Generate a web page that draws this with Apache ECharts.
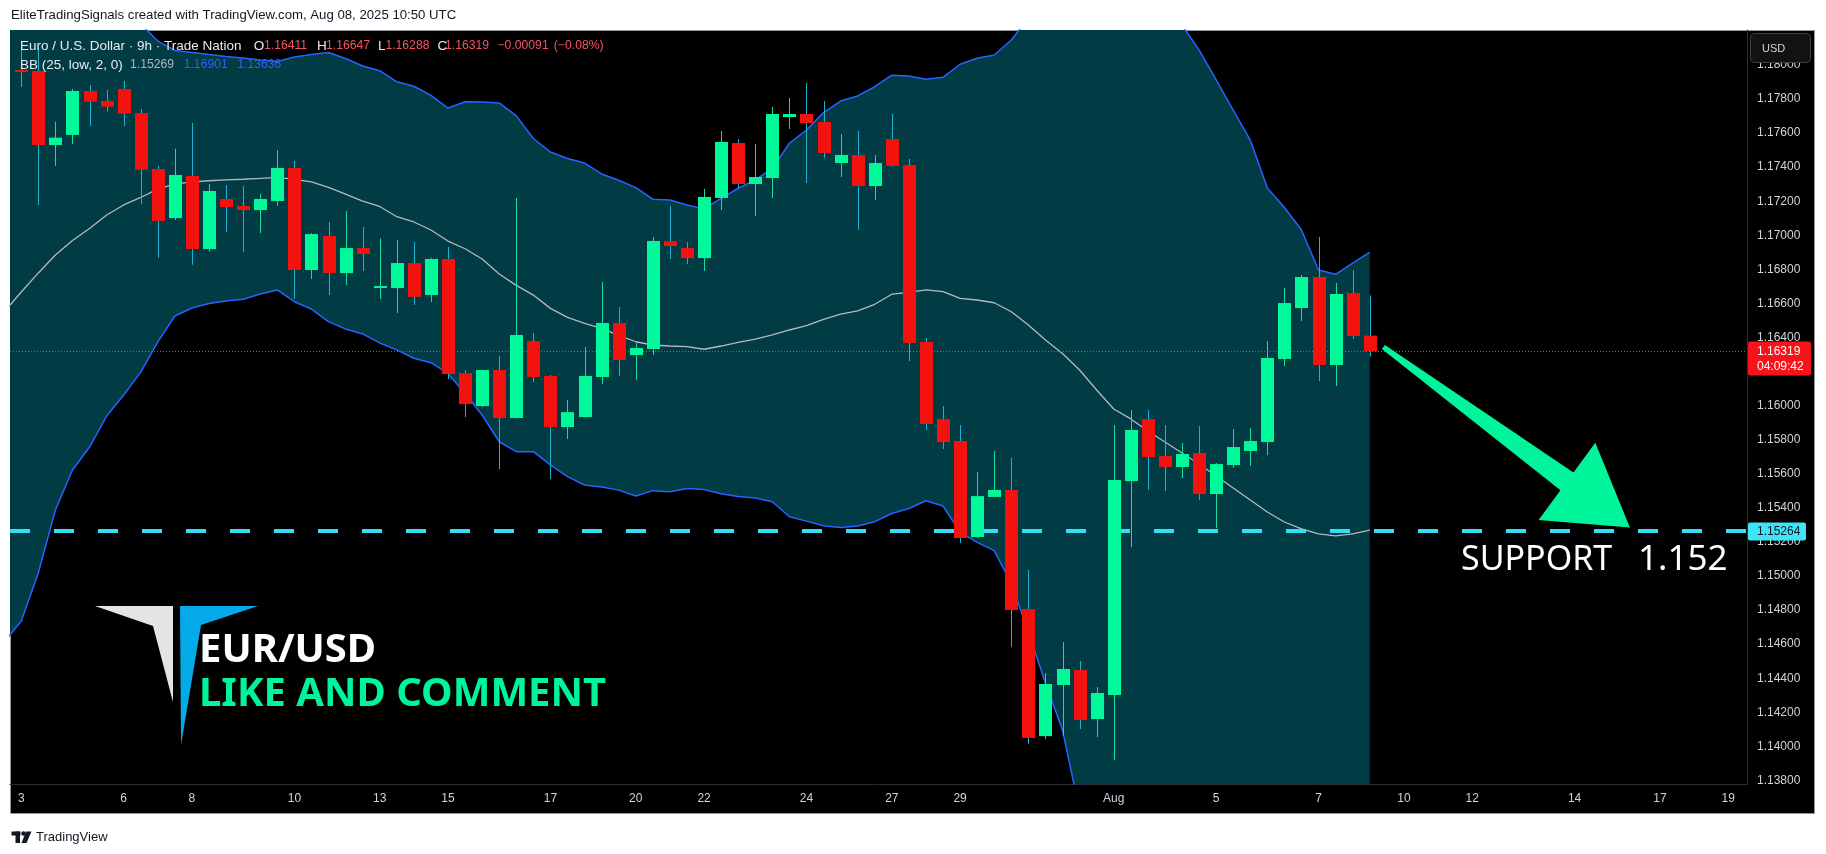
<!DOCTYPE html>
<html>
<head>
<meta charset="utf-8">
<script src="https://cdn.jsdelivr.net/npm/echarts@6/dist/echarts.min.js"></script>
<style>
html,body{margin:0;padding:0;background:#ffffff;}
#frame{position:absolute;left:10px;top:30px;width:1803px;height:782px;background:#000;border:1px solid #9598a1;box-sizing:content-box;}
#c{position:absolute;left:0;top:0;width:1826px;height:854px;}
</style>
</head>
<body>
<div id="frame"></div>
<div id="c"></div>
<script>
// ---------- data ----------
const opens  = [1.17970,1.17964,1.17530,1.17589,1.17847,1.17788,1.17859,1.17718,1.17389,1.17101,
                1.17348,1.16919,1.17213,1.17172,1.17148,1.17201,1.17395,1.16796,1.16996,1.16778,
                1.16925,1.16698,1.16690,1.16837,1.16649,1.16861,1.16191,1.15998,1.16209,1.15927,
                1.16379,1.16174,1.15874,1.15933,1.16168,1.16485,1.16297,1.16332,1.16966,1.16925,
                1.16866,1.17219,1.17542,1.17301,1.17336,1.17694,1.17712,1.17665,1.17424,1.17471,
                1.17289,1.17565,1.17412,1.16373,1.15921,1.15792,1.15229,1.15464,1.15505,1.14806,
                1.14060,1.14360,1.14448,1.14160,1.14301,1.15557,1.15921,1.15704,1.15640,1.15722,
                1.15481,1.15651,1.15734,1.15786,1.16274,1.16573,1.16755,1.16238,1.16661,1.16411];
const highs  = [1.18100,1.18100,1.17667,1.17859,1.17882,1.17853,1.17906,1.17741,1.17407,1.17508,
                1.17659,1.17301,1.17295,1.17289,1.17242,1.17500,1.17436,1.17013,1.17078,1.17142,
                1.17049,1.16982,1.16972,1.16960,1.16866,1.16931,1.16209,1.16212,1.16291,1.17219,
                1.16426,1.16180,1.16033,1.16344,1.16726,1.16579,1.16367,1.16990,1.17172,1.16960,
                1.17272,1.17612,1.17565,1.17536,1.17753,1.17806,1.17894,1.17788,1.17594,1.17612,
                1.17471,1.17712,1.17448,1.16397,1.15998,1.15886,1.15610,1.15734,1.15693,1.15035,
                1.14430,1.14612,1.14501,1.14348,1.15886,1.15974,1.15974,1.15886,1.15781,1.15880,
                1.15663,1.15863,1.15869,1.16379,1.16690,1.16767,1.16990,1.16720,1.16796,1.16647];
const lows   = [1.17870,1.17178,1.17407,1.17536,1.17641,1.17726,1.17641,1.17185,1.16868,1.17090,
                1.16827,1.16904,1.17019,1.16902,1.17013,1.17172,1.16626,1.16743,1.16649,1.16708,
                1.16790,1.16626,1.16544,1.16591,1.16608,1.16156,1.15933,1.15992,1.15628,1.15925,
                1.16139,1.15569,1.15804,1.15930,1.16127,1.16174,1.16150,1.16297,1.16861,1.16831,
                1.16790,1.17148,1.17277,1.17113,1.17219,1.17624,1.17307,1.17454,1.17342,1.17031,
                1.17207,1.17401,1.16262,1.15857,1.15745,1.15193,1.15223,1.15464,1.14583,1.14013,
                1.14043,1.14060,1.14102,1.14054,1.13919,1.15170,1.15505,1.15499,1.15575,1.15446,
                1.15282,1.15634,1.15646,1.15710,1.16233,1.16497,1.16144,1.16115,1.16391,1.16288];
const closes = [1.17960,1.17530,1.17573,1.17847,1.17784,1.17755,1.17714,1.17385,1.17084,1.17354,
                1.16919,1.17260,1.17166,1.17148,1.17213,1.17395,1.16796,1.17007,1.16778,1.16925,
                1.16890,1.16702,1.16837,1.16638,1.16861,1.16185,1.16009,1.16209,1.15927,1.16414,
                1.16168,1.15874,1.15962,1.16174,1.16485,1.16268,1.16338,1.16966,1.16937,1.16866,
                1.17225,1.17548,1.17301,1.17342,1.17712,1.17712,1.17659,1.17483,1.17471,1.17289,
                1.17424,1.17407,1.16367,1.15892,1.15786,1.15223,1.15469,1.15505,1.14800,1.14049,
                1.14366,1.14454,1.14154,1.14313,1.15563,1.15857,1.15698,1.15640,1.15716,1.15481,
                1.15657,1.15757,1.15792,1.16280,1.16602,1.16755,1.16238,1.16655,1.16409,1.16319];

// Bollinger band values; first value belongs to bar index -1
const bandStart = -1;
const bbUpper  = [1.18487,
                 1.18604,1.18540,1.18381,1.18317,1.18322,1.18299,1.18293,1.18240,1.18140,1.18085,
                 1.18073,1.18061,1.18050,1.18041,1.18029,1.18020,1.18047,1.18061,1.18073,1.18038,
                 1.17994,1.17966,1.17901,1.17875,1.17821,1.17747,1.17784,1.17782,1.17777,1.17701,
                 1.17568,1.17489,1.17451,1.17424,1.17360,1.17323,1.17280,1.17212,1.17207,1.17178,
                 1.17155,1.17217,1.17276,1.17325,1.17393,1.17540,1.17618,1.17720,1.17788,1.17818,
                 1.17872,1.17940,1.17935,1.17916,1.17927,1.18004,1.18039,1.18058,1.18146,1.18275,
                 1.18399,1.18516,1.18792,1.18704,1.18675,1.18604,1.18499,1.18369,1.18234,1.18088,
                 1.17912,1.17735,1.17559,1.17277,1.17163,1.17031,1.16796,1.16771,1.16837,1.16901];
const bbMiddle = [1.16550,
                 1.16667,1.16779,1.16884,1.16969,1.17040,1.17119,1.17178,1.17222,1.17272,1.17301,
                 1.17313,1.17320,1.17325,1.17329,1.17334,1.17340,1.17328,1.17313,1.17281,1.17241,
                 1.17201,1.17169,1.17109,1.17078,1.17031,1.16966,1.16921,1.16861,1.16773,1.16706,
                 1.16649,1.16571,1.16518,1.16483,1.16453,1.16413,1.16375,1.16356,1.16350,1.16346,
                 1.16331,1.16350,1.16371,1.16391,1.16415,1.16444,1.16470,1.16507,1.16537,1.16556,
                 1.16595,1.16654,1.16665,1.16679,1.16669,1.16630,1.16620,1.16604,1.16551,1.16473,
                 1.16385,1.16306,1.16209,1.16092,1.15980,1.15922,1.15851,1.15787,1.15722,1.15657,
                 1.15587,1.15517,1.15446,1.15376,1.15317,1.15276,1.15247,1.15235,1.15247,1.15269];
const bbLower  = [1.14613,
                 1.14736,1.15018,1.15387,1.15622,1.15757,1.15939,1.16062,1.16197,1.16374,1.16526,
                 1.16573,1.16600,1.16614,1.16624,1.16655,1.16679,1.16610,1.16567,1.16493,1.16450,
                 1.16421,1.16368,1.16327,1.16278,1.16252,1.16189,1.16071,1.15945,1.15788,1.15730,
                 1.15730,1.15652,1.15583,1.15534,1.15522,1.15504,1.15470,1.15501,1.15494,1.15514,
                 1.15507,1.15483,1.15466,1.15458,1.15436,1.15348,1.15322,1.15295,1.15285,1.15294,
                 1.15319,1.15367,1.15396,1.15442,1.15411,1.15258,1.15197,1.15149,1.14957,1.14671,
                 1.14372,1.14096,1.13621,1.13480,1.13286,1.13239,1.13204,1.13204,1.13210,1.13227,
                 1.13263,1.13298,1.13333,1.13474,1.13471,1.13521,1.13697,1.13699,1.13656,1.13636];

const priceTicks = [1.138,1.140,1.142,1.144,1.146,1.148,1.150,1.152,1.154,1.156,1.158,
                    1.160,1.162,1.164,1.166,1.168,1.170,1.172,1.174,1.176,1.178,1.180];
const timeLabelIdx  = [0,6,10,16,21,25,31,36,40,46,51,55,64,70,76,81,85,91,96,100];
const timeLabelText = ['3','6','8','10','13','15','17','20','22','24','27','29','Aug','5','7','10','12','14','17','19'];

const lastPrice = 1.16319;
const lastPriceCountdown = '04:09:42';
const supportPrice = 1.15264;
const arrowTail = [79.8, 1.16344];
const arrowTip  = [94.24, 1.15285];

// ---------- chart ----------
const UP = '#00fa9a', DOWN = '#f4120f', UPWICK = '#14dca3', DOWNWICK = '#1cb4d2';
const AXIS_TXT = '#d1d4dc';
const FONT = "'Liberation Sans', Arial, sans-serif";

const chart = echarts.init(document.getElementById('c'), null, {renderer:'canvas'});

const band = arr => arr.map((v,k)=>[k+bandStart, v]);
const candleData = opens.map((o,i)=>[i, o, closes[i], lows[i], highs[i]]);

const option = {
  animation:false,
  backgroundColor:'transparent',
  grid:{left:10, right:79, top:30, bottom:70, containLabel:false},
  xAxis:{
    type:'value', min:-0.66, max:101.1,
    splitLine:{show:false},
    axisTick:{show:false},
    axisLine:{show:true, onZero:false, lineStyle:{color:'#2a2e39', width:1}},
    axisLabel:{
      customValues: timeLabelIdx,
      formatter: v => timeLabelText[timeLabelIdx.indexOf(v)],
      color:AXIS_TXT, fontSize:12, fontFamily:FONT, margin:9
    }
  },
  yAxis:{
    type:'value', position:'right', min:1.13779, max:1.18205, scale:true,
    splitLine:{show:false},
    axisTick:{show:false},
    axisLine:{show:true, onZero:false, lineStyle:{color:'#2a2e39', width:1}},
    axisLabel:{
      customValues: priceTicks,
      formatter: v => v.toFixed(5),
      color:AXIS_TXT, fontSize:12, fontFamily:FONT, margin:10
    }
  },
  series:[
    {type:'custom', name:'bbFill', data:[[bandStart, bbMiddle[0]]], z:1, silent:true,
     renderItem:function(params, api){
       const pts = [];
       for (let k=0;k<bbUpper.length;k++) pts.push(api.coord([k+bandStart, bbUpper[k]]));
       for (let k=bbLower.length-1;k>=0;k--) pts.push(api.coord([k+bandStart, bbLower[k]]));
       const cs = params.coordSys;
       return {type:'polygon', shape:{points:pts}, style:{fill:'#013b44'},
               clipPath:{type:'rect', shape:{x:cs.x, y:cs.y, width:cs.width, height:cs.height}}};
     }},
    {type:'line', name:'bbUpper', data:band(bbUpper), symbol:'none',
     lineStyle:{color:'#2962ff', width:1.5}, silent:true, z:2},
    {type:'line', name:'bbLower', data:band(bbLower), symbol:'none',
     lineStyle:{color:'#2962ff', width:1.5}, silent:true, z:2},
    {type:'line', name:'bbMiddle', data:band(bbMiddle), symbol:'none',
     lineStyle:{color:'#b4b8c0', width:1.3}, silent:true, z:2,
     markLine:{
       silent:true, symbol:['none','none'], label:{show:false}, precision:5,
       data:[
         {yAxis:lastPrice, lineStyle:{color:'#f23645', type:[1,2], width:1}},
         {yAxis:supportPrice, lineStyle:{color:'#33def5', type:[20,24], width:4}}
       ]
     }},
    {type:'custom', name:'EURUSD', data:candleData, z:5,
     encode:{x:0, y:[1,2,3,4]},
     renderItem:function(params, api){
       const i = api.value(0), o = api.value(1), c = api.value(2), l = api.value(3), h = api.value(4);
       const pO = api.coord([i,o]), pC = api.coord([i,c]);
       const pL = api.coord([i,l]), pH = api.coord([i,h]);
       const bw = Math.round(api.size([1,0])[0]*0.76);
       const cx = Math.round(pO[0]);
       const up = c >= o;
       const top = Math.min(pO[1], pC[1]);
       const bh = Math.max(Math.abs(pO[1]-pC[1]), 2);
       return {type:'group', children:[
         {type:'line', shape:{x1:cx+0.5, y1:pH[1], x2:cx+0.5, y2:pL[1]},
          style:{stroke: up?UPWICK:DOWNWICK, lineWidth:1}},
         {type:'rect', shape:{x:cx-Math.floor(bw/2), y:top, width:bw, height:bh},
          style:{fill: up?UP:DOWN}}
       ]};
     }}
  ]
};
chart.setOption(option);

// ---------- annotations (placed through the chart's scales) ----------
const P = (x,y)=>chart.convertToPixel({xAxisIndex:0, yAxisIndex:0},[x,y]);
const yLast = P(0,lastPrice)[1];
const ySup = P(0,supportPrice)[1];
const tail = P(arrowTail[0], arrowTail[1]);
const tip = P(arrowTip[0], arrowTip[1]);

function arrowPoints(a, b){
  const dx=b[0]-a[0], dy=b[1]-a[1], L=Math.hypot(dx,dy);
  const ux=dx/L, uy=dy/L, wx=-uy, wy=ux;
  const head=78, hw=48, sw0=2.5, sw1=11;
  const pt=(s,w)=>[a[0]+ux*s+wx*w, a[1]+uy*s+wy*w];
  return [pt(0,-sw0), pt(L-head,-sw1), pt(L-head,-hw), pt(L,0), pt(L-head,hw), pt(L-head,sw1), pt(0,sw0)];
}

const W = '#e8eaf0', R = '#f7525f', B = '#2962ff';
const txt = (t,x,y,fill,font,extra)=>Object.assign({type:'text', x:x, y:y, z:50,
  style:{text:t, fill:fill, font:font, align:'left', verticalAlign:'middle', textAlign:'left', textVerticalAlign:'middle'}}, extra||{});

const wordFont = "13.5px " + FONT;
const numFont = "12.2px " + FONT;
const header1 = [['Euro / U.S. Dollar · 9h · Trade Nation',20,W,wordFont],['O',253.7,W,wordFont],['1.16411',264,R,numFont],
                 ['H',317,W,wordFont],['1.16647',326,R,numFont],['L',378,W,wordFont],['1.16288',385.4,R,numFont],
                 ['C',437.4,W,wordFont],['1.16319',445,R,numFont],['−0.00091',497.5,R,numFont],['(−0.08%)',553.8,R,numFont]];
const header2 = [['BB (25, low, 2, 0)',20,W,wordFont],['1.15269',130,'#b2b5be',numFont],['1.16901',183.7,B,numFont],['1.13636',237.3,B,numFont]];

const graphics = [];
graphics.push(txt('EliteTradingSignals created with TradingView.com, Aug 08, 2025 10:50 UTC', 11, 15, '#131722', "13.2px "+FONT));
header1.forEach(h=>graphics.push(txt(h[0],h[1],46,h[2],h[3])));
header2.forEach(h=>graphics.push(txt(h[0],h[1],65,h[2],h[3])));

// USD button
graphics.push({type:'rect', z:60, shape:{x:1750.5,y:33.5,width:60,height:29,r:4}, style:{fill:'#121212', stroke:'#3a3d45', lineWidth:1}});
graphics.push(txt('USD',1762,48.5,AXIS_TXT,"11px "+FONT,{z:61}));

// last price label
graphics.push({type:'rect', z:60, shape:{x:1748, y:Math.round(yLast)-9.5, width:63, height:34, r:2}, style:{fill:'#f7131a'}});
graphics.push(txt(lastPrice.toFixed(5),1757,yLast+0.5,'#ffffff',"12px "+FONT,{z:61}));
graphics.push(txt(lastPriceCountdown,1757,yLast+15.5,'#ffffff',"12px "+FONT,{z:61}));

// support label
graphics.push({type:'rect', z:60, shape:{x:1748, y:Math.round(ySup)-8.5, width:58, height:18, r:2}, style:{fill:'#3ee4f7'}});
graphics.push(txt(supportPrice.toFixed(5),1757,ySup+0.5,'#131722',"12px "+FONT,{z:61}));

// arrow + support text
graphics.push({type:'polygon', z:40, shape:{points:arrowPoints(tail,tip)}, style:{fill:'#00f59b'}});
graphics.push(txt('SUPPORT',1461,560,'#ffffff',"34px 'Noto Sans', sans-serif",{z:41}));
graphics.push(txt('1.152',1638,560,'#ffffff',"35px 'Noto Sans', sans-serif",{z:41}));

// watermark logo
graphics.push({type:'polygon', z:30, shape:{points:[[95,606],[173,606],[173,702],[153,626]]}, style:{fill:'#e4e4e4'}});
graphics.push({type:'polygon', z:30, shape:{points:[[180,606],[258,606],[201,625],[181,745]]}, style:{fill:'#05abe8'}});
graphics.push(txt('EUR/USD',199,651,'#ffffff',"bold 40px 'Noto Sans', sans-serif",{z:31}));
graphics.push(txt('LIKE AND COMMENT',199,695,'#00f59b',"bold 40px 'Noto Sans', sans-serif",{z:31}));

// TradingView footer logo + text
graphics.push({type:'rect', z:30, shape:{x:11.5,y:831.5,width:9,height:4}, style:{fill:'#131722'}});
graphics.push({type:'rect', z:30, shape:{x:15.5,y:831.5,width:4.5,height:11.5}, style:{fill:'#131722'}});
graphics.push({type:'circle', z:30, shape:{cx:23.5,cy:833.5,r:2.2}, style:{fill:'#131722'}});
graphics.push({type:'polygon', z:30, shape:{points:[[26,831.5],[31.5,831.5],[26.5,843],[21.5,843]]}, style:{fill:'#131722'}});
graphics.push(txt('TradingView',36,837,'#131722',"13px "+FONT));

chart.setOption({graphic:{elements:graphics}});
</script>
</body>
</html>
